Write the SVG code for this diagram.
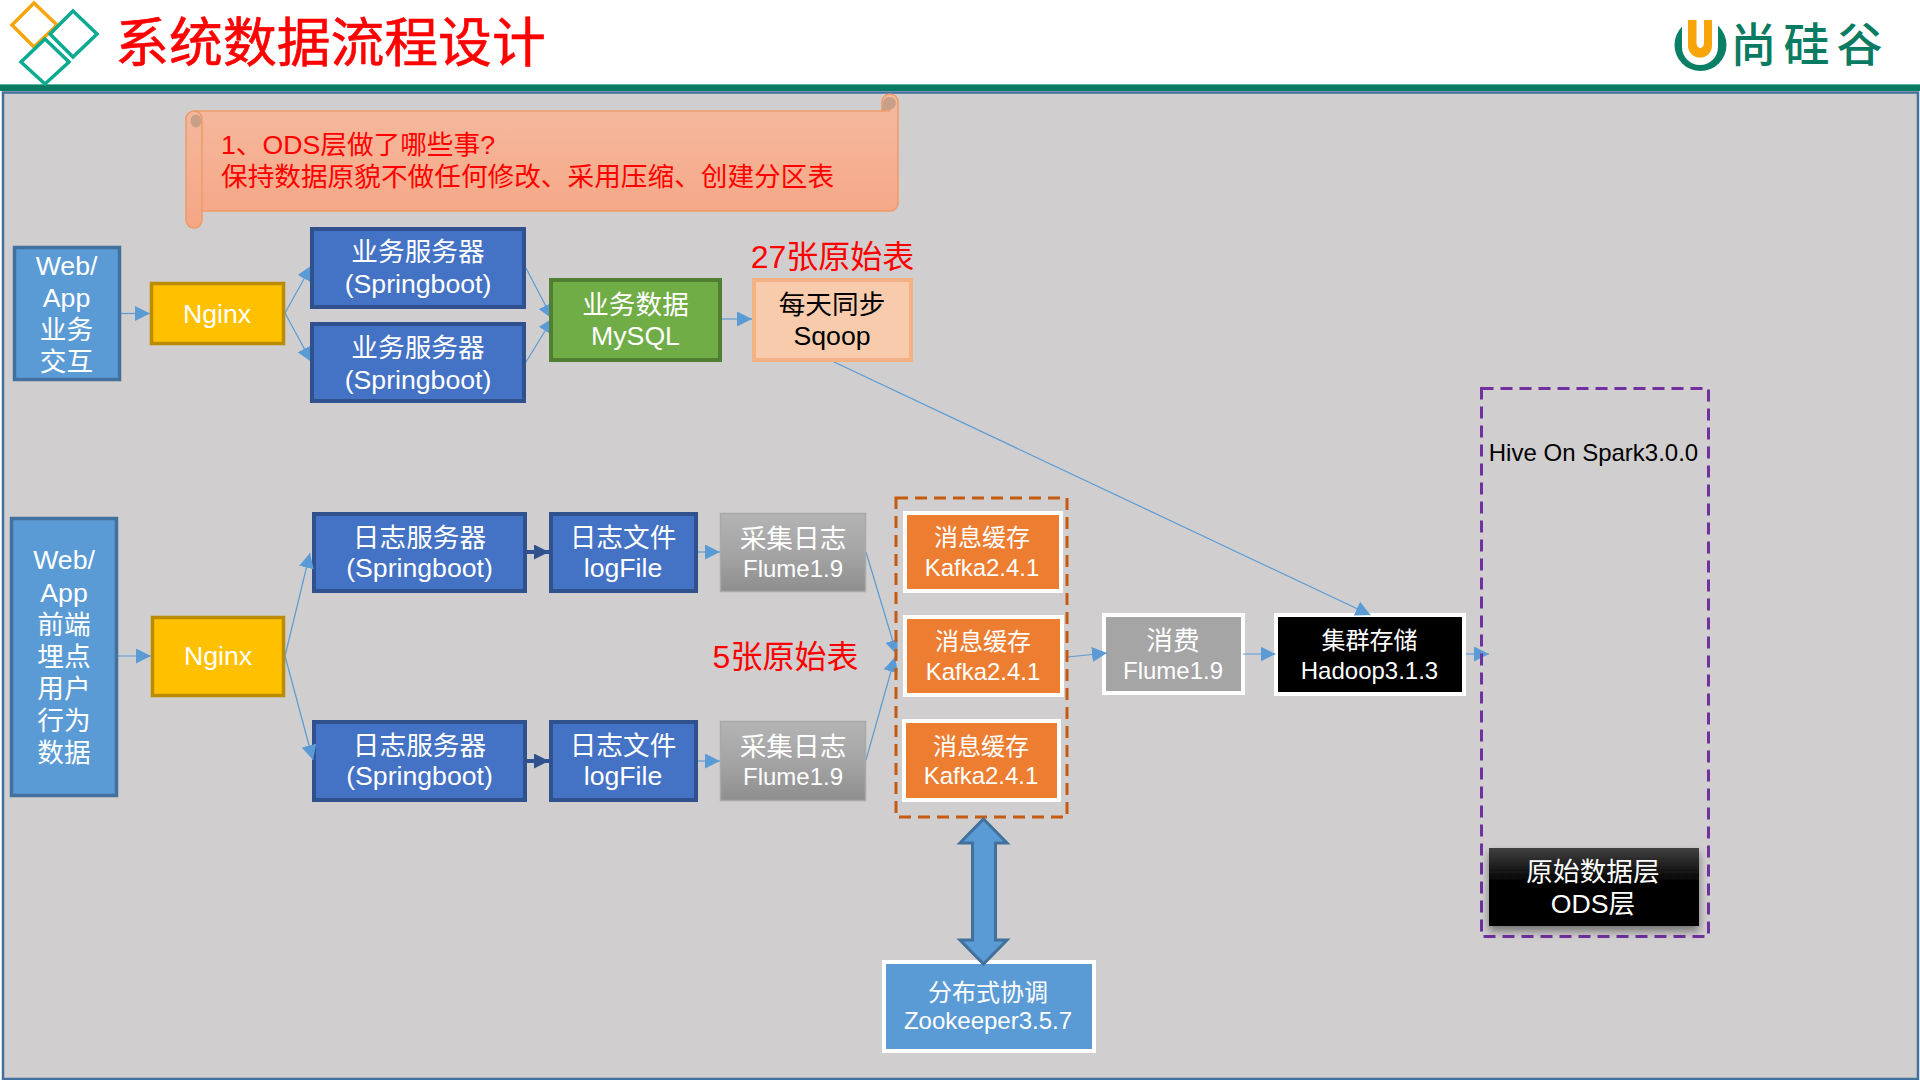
<svg xmlns="http://www.w3.org/2000/svg" width="1920" height="1080" viewBox="0 0 1920 1080">
<style>
text{font-family:"Liberation Sans","Noto Sans CJK SC",sans-serif;text-anchor:middle}
.w{fill:#fff;font-size:26.67px}
.s{fill:#fff;font-size:24px}
.k{fill:#000;font-size:26.67px}
.r{fill:#f00;font-size:32px}
.note{fill:#f00;font-size:26.67px;text-anchor:start}
.bl{fill:#5B9BD5;stroke:#41719C;stroke-width:3.5}
.srv{fill:#4472C4;stroke:#2F528F;stroke-width:4}
.ng{fill:#FFC000;stroke:#BC8C00;stroke-width:3.5}
.ka{fill:#ED7D31;stroke:#fff;stroke-width:4}
.fl{fill:url(#gray);stroke:#A9A9A9;stroke-width:1.5}
.c{fill:none;stroke:#5B9BD5;stroke-width:1.2;marker-end:url(#a)}
.d{fill:none;stroke:#2F528F;stroke-width:4;marker-end:url(#b)}
</style>
<defs>
<marker id="a" markerUnits="userSpaceOnUse" markerWidth="15" markerHeight="15" viewBox="0 0 15 15" refX="15" refY="7.5" orient="auto"><path d="M0,0L15,7.5L0,15z" fill="#5B9BD5"/></marker>
<marker id="b" markerUnits="userSpaceOnUse" markerWidth="15" markerHeight="15" viewBox="0 0 15 15" refX="15" refY="7.5" orient="auto"><path d="M0,0L15,7.5L0,15z" fill="#2F528F"/></marker>
<linearGradient id="gray" x1="0" y1="0" x2="0" y2="1"><stop offset="0" stop-color="#B4B4B4"/><stop offset="0.55" stop-color="#A3A3A3"/><stop offset="1" stop-color="#8E8E8E"/></linearGradient>
<linearGradient id="scroll" x1="0" y1="0" x2="0" y2="1"><stop offset="0" stop-color="#F5BAA0"/><stop offset="1" stop-color="#F5A684"/></linearGradient>
<linearGradient id="ods" x1="0" y1="0" x2="0" y2="1"><stop offset="0" stop-color="#404040"/><stop offset="0.45" stop-color="#000"/><stop offset="1" stop-color="#000"/></linearGradient>
<filter id="sh" x="-10%" y="-10%" width="120%" height="130%"><feDropShadow dx="0" dy="5" stdDeviation="4" flood-color="#000" flood-opacity="0.45"/></filter>
<clipPath id="kc"><rect x="800" y="500" width="97.5" height="300"/></clipPath>
</defs>

<rect width="1920" height="1080" fill="#fff"/>
<g id="panel">
<rect x="3" y="92.5" width="1915" height="986.5" fill="#D0CECE" stroke="#41719C" stroke-width="2.5"/>
<rect x="0" y="84" width="1920" height="7" fill="#0A7B63"/>
<rect x="0" y="84" width="1920" height="1" fill="#5FB3A0"/>
</g>
<g id="header">
<path d="M34,3L57,25L34,47L12,25z" fill="none" stroke="#F8A50B" stroke-width="3.5"/>
<path d="M73,11L97,34L73,57L50,34z" fill="none" stroke="#0BAA91" stroke-width="3.5"/>
<path d="M45,39L69,62L45,84L21,62z" fill="none" stroke="#0BAA91" stroke-width="3.5"/>
<text x="330.500" y="62" fill="#f00" stroke="#f00" stroke-width="0.6" style="font-size:53.800px">系统数据流程设计</text>
</g>
<g id="logo">
<circle cx="1700.500" cy="45" r="26" fill="#0A7F66"/>
<path d="M1682,15H1718V47A18,18 0 0 1 1682,47z" fill="#fff"/>
<path d="M1688,20H1712V46A12,11.500 0 0 1 1688,46z" fill="#F8A50B"/>
<path d="M1696.500,20H1704V43A3.750,5 0 0 1 1696.500,43z" fill="#fff"/>
<text x="1810" y="61" fill="#0A7B63" style="font-size:46px;font-weight:500;letter-spacing:7px">尚硅谷</text>
</g>

<g id="note">
<path d="M194,111H882V102A8,8 0 0 1 898,102V203A8,8 0 0 1 890,211H202V220A8,8 0 0 1 186,220V119A8,8 0 0 1 194,111z" fill="url(#scroll)" stroke="#EE9A68" stroke-width="1.500"/>
<ellipse cx="196" cy="121" rx="5.500" ry="6.500" fill="#C99F8A"/>
<path d="M883,102A7,8 0 0 1 896,102A7,8 0 0 1 890,110L882,111z" fill="#C99F8A"/>
<path d="M194,111A8,8 0 0 1 202,119V211M882,111H890" fill="none" stroke="#EE9A68" stroke-width="1.500"/>
<text class="note" x="221" y="154">1、ODS层做了哪些事?</text>
<text class="note" x="221" y="186">保持数据原貌不做任何修改、采用压缩、创建分区表</text>
</g>

<g id="node-consume"><rect class="ka" style="fill:#A5A5A5" x="1104" y="615" width="139" height="78"/><text class="w" x="1173" y="650">消费</text><text class="s" x="1173" y="679">Flume1.9</text></g>
<g id="node-hadoop"><rect class="ka" style="fill:#000" x="1276" y="615" width="188" height="79"/><text class="s" x="1369.500" y="649">集群存储</text><text class="s" x="1369.500" y="679">Hadoop3.1.3</text></g>
<g id="node-log1"><rect class="srv" x="314" y="514" width="211" height="77"/><text class="w" x="419.500" y="547">日志服务器</text><text class="w" x="419.500" y="577">(Springboot)</text></g>
<g id="node-log2"><rect class="srv" x="314" y="722" width="211" height="78"/><text class="w" x="419.500" y="755">日志服务器</text><text class="w" x="419.500" y="785">(Springboot)</text></g>

<g id="connectors">
<line class="c" x1="121" y1="313.500" x2="150" y2="313.500"/>
<line class="c" x1="285" y1="313" x2="311.500" y2="265.500"/>
<line class="c" x1="285" y1="313" x2="311.500" y2="362"/>
<line class="c" x1="526" y1="268" x2="552.500" y2="319"/>
<line class="c" x1="526" y1="362" x2="553" y2="318"/>
<line class="c" x1="722" y1="319" x2="752" y2="319"/>
<line class="c" x1="832" y1="361" x2="1370.500" y2="615"/>
<line class="c" x1="118" y1="656" x2="151" y2="656"/>
<line class="c" x1="285" y1="656" x2="310" y2="553"/>
<line class="c" x1="285" y1="656" x2="313" y2="760"/>
<line class="d" x1="527" y1="552" x2="549" y2="552"/>
<line class="d" x1="527" y1="761" x2="549" y2="761"/>
<line class="c" x1="698" y1="552" x2="720" y2="552"/>
<line class="c" x1="698" y1="761" x2="720" y2="761"/>
<g clip-path="url(#kc)">
<line class="c" x1="866" y1="552" x2="897" y2="655"/>
<line class="c" x1="866" y1="760" x2="895" y2="657"/>
</g>
<line class="c" x1="1067" y1="657" x2="1107" y2="653"/>
<line class="c" x1="1243" y1="654" x2="1275.500" y2="654"/>
<line class="c" x1="1466" y1="654" x2="1489" y2="654"/>
</g>

<g id="node-web1"><rect class="bl" x="14.500" y="247.500" width="105" height="132"/><text class="w" x="66.500" y="275">Web/</text><text class="w" x="66.500" y="307">App</text><text class="w" x="66.500" y="339">业务</text><text class="w" x="66.500" y="371">交互</text></g>
<g id="node-nginx1"><rect class="ng" x="151.500" y="283.500" width="132" height="60"/><text class="w" x="217" y="323">Nginx</text></g>
<g id="node-biz1"><rect class="srv" x="312" y="229" width="212" height="78"/><text class="w" x="418" y="261">业务服务器</text><text class="w" x="418" y="293">(Springboot)</text></g>
<g id="node-biz2"><rect class="srv" x="312" y="324" width="212" height="77"/><text class="w" x="418" y="357">业务服务器</text><text class="w" x="418" y="389">(Springboot)</text></g>
<g id="node-mysql"><rect x="551" y="280" width="169" height="80" fill="#70AD47" stroke="#507E32" stroke-width="4"/><text class="w" x="635.500" y="314">业务数据</text><text class="w" x="635.500" y="345">MySQL</text></g>
<g id="node-sqoop"><rect x="754" y="280" width="157" height="80" fill="#F8CBAD" stroke="#F4B183" stroke-width="4"/><text class="k" x="832" y="314">每天同步</text><text class="k" x="832" y="345">Sqoop</text></g>
<text class="r" x="832.500" y="268">27张原始表</text>

<g id="node-web2"><rect class="bl" x="11.500" y="518.500" width="105" height="277"/><text class="w" x="64" y="569">Web/</text><text class="w" x="64" y="602">App</text><text class="w" x="64" y="634">前端</text><text class="w" x="64" y="666">埋点</text><text class="w" x="64" y="698">用户</text><text class="w" x="64" y="730">行为</text><text class="w" x="64" y="762">数据</text></g>
<g id="node-nginx2"><rect class="ng" x="152.500" y="617.500" width="131" height="78"/><text class="w" x="218" y="665">Nginx</text></g>
<g id="node-file1"><rect class="srv" x="551" y="514" width="145" height="77"/><text class="w" x="623" y="547">日志文件</text><text class="w" x="623" y="577">logFile</text></g>
<g id="node-flume1"><rect class="fl" x="720.500" y="513.500" width="145" height="78"/><text class="w" x="793" y="548">采集日志</text><text class="s" x="793" y="577">Flume1.9</text></g>
<g id="node-file2"><rect class="srv" x="551" y="722" width="145" height="78"/><text class="w" x="623" y="755">日志文件</text><text class="w" x="623" y="785">logFile</text></g>
<g id="node-flume2"><rect class="fl" x="720.500" y="721.500" width="145" height="79"/><text class="w" x="793" y="756">采集日志</text><text class="s" x="793" y="785">Flume1.9</text></g>
<text class="r" x="785.500" y="668">5张原始表</text>

<g id="group-kafka"><rect x="896" y="498" width="171" height="319" fill="none" stroke="#C55A11" stroke-width="3" stroke-dasharray="12 7"/></g>
<g id="node-kafka1"><rect class="ka" x="905" y="513" width="156" height="78"/><text class="s" x="982" y="546">消息缓存</text><text class="s" x="982" y="576">Kafka2.4.1</text></g>
<g id="node-kafka2"><rect class="ka" x="905" y="617" width="157" height="78"/><text class="s" x="983" y="650">消息缓存</text><text class="s" x="983" y="680">Kafka2.4.1</text></g>
<g id="node-kafka3"><rect class="ka" x="904" y="721" width="155" height="79"/><text class="s" x="981" y="755">消息缓存</text><text class="s" x="981" y="784">Kafka2.4.1</text></g>

<g id="node-zk"><rect class="ka" style="fill:#5B9BD5" x="884" y="962" width="210" height="89"/><text class="s" x="988" y="1001">分布式协调</text><text class="s" x="988" y="1029">Zookeeper3.5.7</text></g>
<g id="arrow-zk"><path d="M983.500,819L1007,843H995.500V940H1007L983.500,964L960,940H972.500V843H960z" fill="#5B9BD5" stroke="#41719C" stroke-width="3"/></g>

<g id="group-hive"><rect x="1481.500" y="388.500" width="227" height="548" fill="none" stroke="#7030A0" stroke-width="3" stroke-dasharray="12 7"/><text x="1593.500" y="461" fill="#000" style="font-size:24px">Hive On Spark3.0.0</text></g>
<g id="node-ods"><rect x="1489" y="848" width="210" height="78" fill="url(#ods)" filter="url(#sh)"/><text class="w" x="1593" y="881">原始数据层</text><text class="w" x="1593" y="913">ODS层</text></g>
</svg>
